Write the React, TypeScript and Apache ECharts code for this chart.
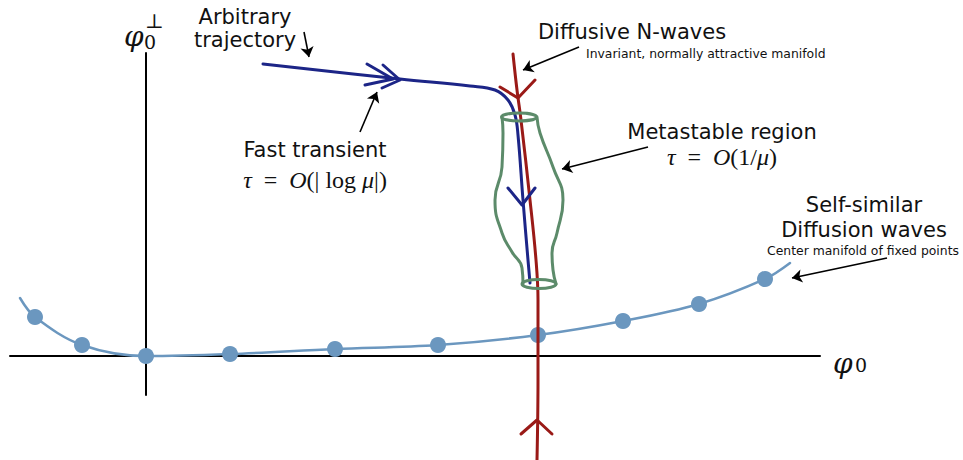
import React, { useEffect, useRef } from "react";
import * as echarts from "echarts";

// Diagram coordinates: x = φ0 (origin at axis crossing), y = φ0⊥
const horizontalAxis = [[-136, 0], [674, 0]];
const verticalAxis = [[0, 303], [0, -39]];

const fixedPoints = [
  [-111, 39], [-64, 11], [0, 0], [84, 2], [189, 7], [292, 11],
  [392, 21], [477, 35], [553, 52], [619, 77],
];
const manifoldStart = [-126, 58];
const manifoldEnd = [644, 93];

const nWaveLine = [
  [367, 302], [371, 266], [375, 236], [384, 156], [390, 96], [392, 56], [392, -24], [391, -104],
];
const nWaveArrowTop = [[354, 269], [372, 258], [389, 276]];
const nWaveArrowBottom = [[375, -78], [391, -64], [406, -78]];

const trajectory = [
  [117, 292], [254, 277], [324, 270], [349, 266], [362, 256], [369, 241],
  [372, 221], [377, 156], [382, 96], [384, 73],
];
const trajArrow1 = [[221, 292], [247, 277], [219, 271]];
const trajArrow2 = [[237, 291], [254, 276], [236, 268]];
const trajArrowDown = [[362, 168], [376, 151], [389, 168]];

const vaseLeft = [
  [356, 239], [357, 223], [356, 189], [349, 156], [356, 123], [366, 104], [376, 88], [377, 72],
];
const vaseRight = [
  [391, 239], [394, 223], [407, 189], [417, 156], [411, 123], [406, 103], [407, 86], [410, 72],
];
const vaseRims = [
  [373, 239, 17.5, 4],
  [393, 72, 17, 4.5],
];

const annotationArrows = [
  [[158, 324], [163, 299]],
  [[214, 224], [231, 264]],
  [[433, 309], [377, 286]],
  [[502, 209], [416, 187]],
  [[741, 98], [646, 78]],
];

const BLUE_LIGHT = "#6b97bf";
const RED = "#9a1a17";
const NAVY = "#1c2587";
const GREEN = "#5c8b6a";
const SANS = "DejaVu Sans";
const SERIF = "Liberation Serif";
const MATH = "DejaVu Serif";

function poly(data: number[][], color: string, width: number, smooth: number | boolean = false, z = 2) {
  return {
    type: "line",
    data,
    smooth,
    symbol: "none",
    z,
    lineStyle: { color, width, cap: "round", join: "round" },
    silent: true,
  };
}

function txt(text: string, x: number, y: number, size: number, align = "center", family = SANS, extra: any = {}) {
  return {
    type: "text",
    x,
    y,
    z: 10,
    style: {
      text,
      fontSize: size,
      fontFamily: family,
      fill: "#111",
      align,
      verticalAlign: "middle",
      ...extra,
    },
  };
}

const mathRich = { i: { fontStyle: "italic", fontSize: 24, fontFamily: SERIF } };

export default function App() {
  const ref = useRef<HTMLDivElement>(null);
  useEffect(() => {
    if (!ref.current) return;
    const chart = echarts.init(ref.current, undefined, { renderer: "svg" });
    const option: any = {
      animation: false,
      grid: { left: 0, right: 0, top: 0, bottom: 0 },
      xAxis: { type: "value", min: -146, max: 817, show: false },
      yAxis: { type: "value", min: -104, max: 356, show: false },
      series: [
        poly(horizontalAxis, "#000", 2),
        poly(verticalAxis, "#000", 2),
        poly([manifoldStart, ...fixedPoints, manifoldEnd], BLUE_LIGHT, 2.5, 0.35, 3),
        {
          type: "scatter",
          data: fixedPoints,
          symbolSize: 16,
          z: 4,
          itemStyle: { color: BLUE_LIGHT, opacity: 1 },
          silent: true,
        },
        poly(nWaveLine, RED, 3, 0.4, 5),
        poly(nWaveArrowTop, RED, 3, false, 5),
        poly(nWaveArrowBottom, RED, 3, false, 5),
        poly(trajectory, NAVY, 3, 0.4, 5),
        poly(trajArrow1, NAVY, 3, false, 5),
        poly(trajArrow2, NAVY, 3, false, 5),
        poly(trajArrowDown, NAVY, 3, false, 5),
        poly(vaseLeft, GREEN, 3, 0.5, 6),
        poly(vaseRight, GREEN, 3, 0.5, 6),
        {
          type: "custom",
          z: 6,
          data: vaseRims,
          silent: true,
          renderItem: (params: any, api: any) => {
            const c = api.coord([api.value(0), api.value(1)]);
            const rx = api.size([api.value(2), 0])[0];
            const ry = api.size([0, api.value(3)])[1];
            const cx = c[0];
            const cy = c[1];
            return {
              type: "path",
              shape: {
                pathData: `M${cx - rx} ${cy} A${rx} ${ry} 0 1 0 ${cx + rx} ${cy} A${rx} ${ry} 0 1 0 ${cx - rx} ${cy} Z`,
              },
              style: { fill: "none", stroke: GREEN, lineWidth: 3 },
            };
          },
        },
        {
          type: "lines",
          coordinateSystem: "cartesian2d",
          z: 7,
          symbol: ["none", "arrow"],
          symbolSize: [0, 10],
          silent: true,
          lineStyle: { color: "#000", width: 1.6, opacity: 1, curveness: 0 },
          data: annotationArrows.map((c) => ({ coords: c })),
        },
      ],
      graphic: [
        txt("Arbitrary", 245, 17, 21),
        txt("trajectory", 245, 40, 21),
        txt("Diffusive N-waves", 632, 32, 21),
        txt("Invariant, normally attractive manifold", 586, 53, 12.4, "left"),
        txt("Fast transient", 315, 150, 21),
        txt("{i|τ}  =  {i|O}(| log {i|μ}|)", 315, 180, 24, "center", SERIF, { rich: mathRich }),
        txt("Metastable region", 722, 132, 21),
        txt("{i|τ}  =  {i|O}(1/{i|μ})", 722, 157, 24, "center", SERIF, { rich: mathRich }),
        txt("Self-similar", 864, 205, 21),
        txt("Diffusion waves", 864, 230, 21),
        txt("Center manifold of fixed points", 863, 250, 12.4),
        txt("φ", 124, 36, 28, "left", MATH, { fontStyle: "italic" }),
        txt("0", 144, 42, 19, "left", MATH),
        txt("⊥", 145, 21, 20, "left", MATH),
        txt("φ", 833, 363, 28, "left", MATH, { fontStyle: "italic" }),
        txt("0", 855, 365, 19, "left", MATH),
      ],
    };
    chart.setOption(option);
    return () => chart.dispose();
  }, []);
  return (
    <div
      ref={ref}
      style={{ position: "absolute", left: 0, top: 0, width: 963, height: 460, background: "#fff" }}
    />
  );
}
